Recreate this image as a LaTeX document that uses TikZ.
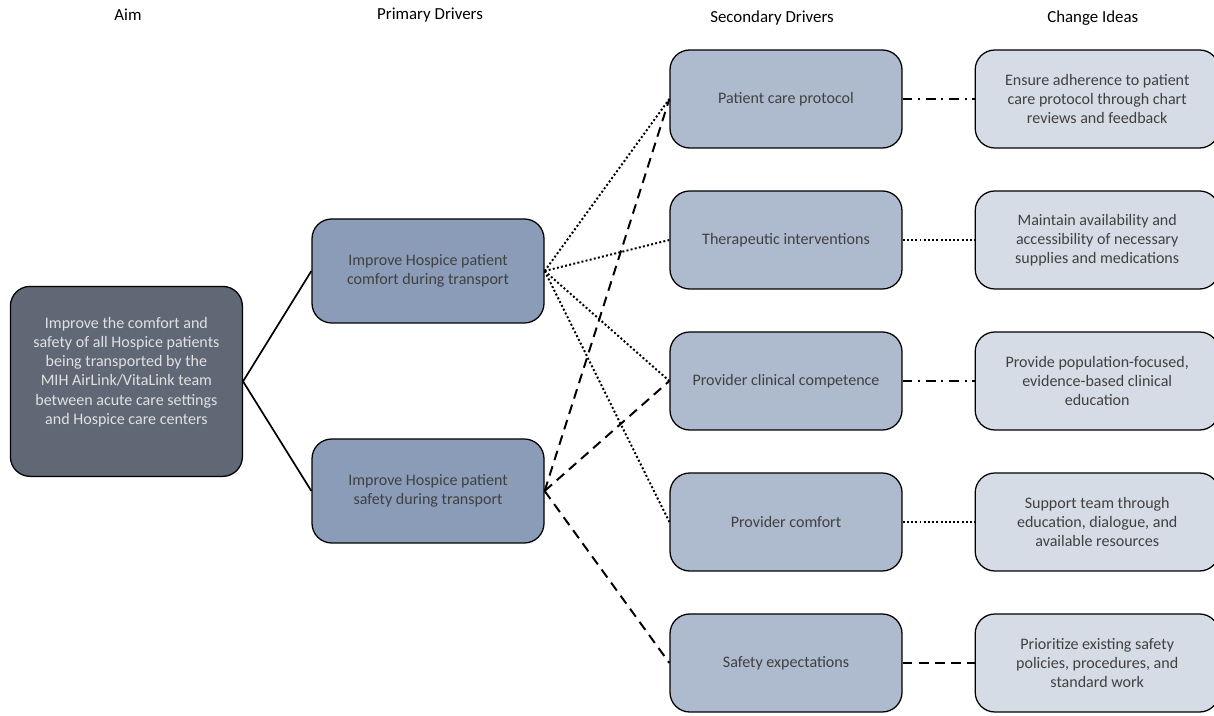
\documentclass[tikz,border=0pt]{standalone}
\usepackage{fontspec}
\setmainfont{Carlito}
\usepackage{tikz}
\definecolor{aimfill}{RGB}{96, 104, 118}
\definecolor{primfill}{RGB}{139, 156, 184}
\definecolor{secfill}{RGB}{174, 186, 205}
\definecolor{ideafill}{RGB}{214, 220, 229}
\definecolor{textgray}{RGB}{64, 64, 64}
\definecolor{aimtext}{RGB}{225, 225, 225}
\usetikzlibrary{positioning}

\begin{document}
\begin{tikzpicture}[
    box/.style={
        rectangle,
        rounded corners=14pt,
        draw=black,
        line width=0.9pt,
        align=center,
        font=\fontsize{11.4}{13.6}\selectfont,
        text=textgray
    },
    aim/.style={box, fill=aimfill, text=aimtext, minimum width=5.8cm, minimum height=4.75cm},
    primary/.style={box, fill=primfill, minimum width=5.8cm, minimum height=2.6cm},
    secondary/.style={box, fill=secfill, minimum width=5.8cm, minimum height=2.45cm},
    idea/.style={box, fill=ideafill, minimum width=6.1cm, minimum height=2.45cm},
    header/.style={font=\fontsize{12}{14}\selectfont, text=black},
    link/.style={line width=1.2pt},
    dotlink/.style={line width=1.4pt, dash pattern=on 1.4pt off 1.6pt},
    dashlink/.style={line width=1.4pt, dash pattern=on 7pt off 4.5pt},
    dashdotlink/.style={line width=1.4pt, dash pattern=on 7pt off 4pt on 1.5pt off 4pt}
]
    \useasboundingbox (0,0) rectangle (30.35,17.875);

    % Column headers
    \node[header] (haim) at (3.2,17.5) {Aim};
    \node[header] (hprim) at (10.75,17.5) {Primary Drivers};
    \node[header] (hsec) at (19.3,17.42) {Secondary Drivers};
    \node[header] (hidea) at (27.32,17.42) {Change Ideas};

    % Aim
    \node[aim] (goal) at (3.16,8.34) {
        Improve the comfort and\\
        safety of all Hospice patients\\
        being transported by the\\
        MIH AirLink/VitaLink team\\
        between acute care settings\\
        and Hospice care centers\\[0.05cm]
    };

    % Primary drivers
    \node[primary] (comfort) at (10.7,11.1) {
        Improve Hospice patient\\
        comfort during transport
    };
    \node[primary] (safety) at (10.7,5.6) {
        Improve Hospice patient\\
        safety during transport
    };

    % Secondary drivers
    \node[secondary] (protocol) at (19.65,15.4) {Patient care protocol};
    \node[secondary] (therapy) at (19.65,11.875) {Therapeutic interventions};
    \node[secondary] (competence) at (19.65,8.35) {Provider clinical competence};
    \node[secondary] (provcomfort) at (19.65,4.825) {Provider comfort};
    \node[secondary] (expect) at (19.65,1.3) {Safety expectations};

    % Change ideas
    \node[idea] (adhere) at (27.43,15.4) {
        Ensure adherence to patient\\
        care protocol through chart\\
        reviews and feedback
    };
    \node[idea] (supplies) at (27.43,11.875) {
        Maintain availability and\\
        accessibility of necessary\\
        supplies and medications
    };
    \node[idea] (education) at (27.43,8.35) {
        Provide population-focused,\\
        evidence-based clinical\\
        education
    };
    \node[idea] (support) at (27.43,4.825) {
        Support team through\\
        education, dialogue, and\\
        available resources
    };
    \node[idea] (policies) at (27.43,1.3) {
        Prioritize existing safety\\
        policies, procedures, and\\
        standard work
    };

    % Aim to primary drivers
    \draw[link] (goal.east) -- (comfort.west);
    \draw[link] (goal.east) -- (safety.west);

    % Comfort driver links
    \draw[dotlink] (comfort.east) -- (protocol.west);
    \draw[dotlink] (comfort.east) -- (therapy.west);
    \draw[dotlink] (comfort.east) -- (competence.west);
    \draw[dotlink] (comfort.east) -- (provcomfort.west);

    % Safety driver links
    \draw[dashlink] (safety.east) -- (protocol.west);
    \draw[dashlink] (safety.east) -- (competence.west);
    \draw[dashlink] (safety.east) -- (expect.west);

    % Secondary drivers to change ideas
    \draw[dashdotlink] (protocol) -- (adhere);
    \draw[dotlink] (therapy) -- (supplies);
    \draw[dashdotlink] (competence) -- (education);
    \draw[dotlink] (provcomfort) -- (support);
    \draw[dashlink] (expect) -- (policies);
\end{tikzpicture}
\end{document}
